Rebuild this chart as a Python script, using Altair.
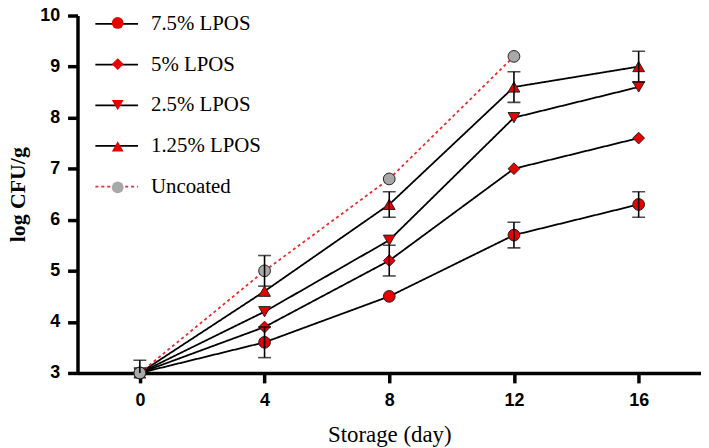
import altair as alt
import pandas as pd

days = [0, 4, 8, 12, 16]
series_names = ["7.5% LPOS", "5% LPOS", "2.5% LPOS", "1.25% LPOS", "Uncoated"]
lpos75 = [3.0, 3.6, 4.5, 5.7, 6.3]
lpos75_err = [0, 0.3, 0, 0.25, 0.25]
lpos5 = [3.0, 3.9, 5.2, 7.0, 7.6]
lpos5_err = [0, 0, 0.3, 0, 0]
lpos25 = [3.0, 4.2, 5.6, 8.0, 8.6]
lpos25_err = [0, 0, 0, 0, 0]
lpos125 = [3.0, 4.6, 6.3, 8.6, 9.0]
lpos125_err = [0, 0, 0.25, 0.3, 0.3]
uncoated_days = [0, 4, 8, 12]
uncoated = [3.0, 5.0, 6.8, 9.2]
uncoated_err = [0.25, 0.3, 0, 0]

pt_names = ["pt " + n for n in series_names]

rows = []
for name, xs, vals, errs in [
    (series_names[0], days, lpos75, lpos75_err),
    (series_names[1], days, lpos5, lpos5_err),
    (series_names[2], days, lpos25, lpos25_err),
    (series_names[3], days, lpos125, lpos125_err),
    (series_names[4], uncoated_days, uncoated, uncoated_err),
]:
    for d, v, e in zip(xs, vals, errs):
        rows.append({"day": d, "value": v, "err": e, "lo": v - e, "hi": v + e,
                     "series": name, "series_pt": "pt " + name,
                     "order": series_names.index(name)})
df = pd.DataFrame(rows)

RED = "#e60000"
GRAY = "#a8a8a8"
LINE_RED = "#ee2b2b"

xscale = alt.Scale(domain=[-2, 18], nice=False, zero=False)
yscale = alt.Scale(domain=[3, 10], nice=False, zero=False)

xenc = alt.X("day:Q", scale=xscale,
             axis=alt.Axis(values=days, title="Storage (day)", grid=False, format="d"))
yenc = alt.Y("value:Q", scale=yscale,
             axis=alt.Axis(values=[3, 4, 5, 6, 7, 8, 9, 10], title="log CFU/g",
                           grid=False, format="d"))

base = alt.Chart(df)

line_legend = dict(title=None, orient="none", legendX=17, legendY=-14,
                   symbolType="stroke", symbolSize=1849,
                   symbolStrokeWidth=1.8, rowPadding=7.95,
                   padding=0, labelFont="Liberation Serif",
                   labelFontSize=21, labelColor="black",
                   labelOffset=12, labelLimit=300)

lines = base.mark_line(strokeWidth=1.8, clip=True).encode(
    x=xenc, y=yenc,
    stroke=alt.Stroke("series:N",
                      scale=alt.Scale(domain=series_names,
                                      range=["black", "black", "black", "black", LINE_RED]),
                      legend=alt.Legend(**line_legend)),
    strokeDash=alt.StrokeDash("series:N",
                              scale=alt.Scale(domain=series_names,
                                              range=[[1, 0], [1, 0], [1, 0], [1, 0], [3, 3]]),
                              legend=alt.Legend(**line_legend)),
    detail="series:N",
    order="day:Q",
)

pt_legend = dict(title=None, orient="none", legendX=30, legendY=-3,
                 symbolSize=140, symbolStrokeColor="#222222",
                 symbolStrokeWidth=1, rowPadding=19.4, padding=0,
                 labelFont="Liberation Serif", labelFontSize=21,
                 labelColor="transparent", labelOpacity=0)

pts = base.mark_point(filled=True, size=140, stroke="#222222", strokeWidth=1, opacity=1).encode(
    x=xenc, y=yenc,
    shape=alt.Shape("series_pt:N",
                    scale=alt.Scale(domain=pt_names,
                                    range=["circle", "diamond", "triangle-down", "triangle-up", "circle"]),
                    legend=alt.Legend(**pt_legend)),
    fill=alt.Fill("series_pt:N",
                  scale=alt.Scale(domain=pt_names, range=[RED, RED, RED, RED, GRAY]),
                  legend=alt.Legend(**pt_legend)),
    order=alt.Order("order:Q"),
)

errdf = base.transform_filter("datum.err > 0")
err_rule = errdf.mark_rule(color="black", strokeWidth=1.6, clip=True).encode(
    x="day:Q", y=alt.Y("lo:Q"), y2="hi:Q")
err_lo = errdf.mark_tick(color="black", thickness=1.6, size=13, clip=True,
                         orient="horizontal").encode(x="day:Q", y="lo:Q")
err_hi = errdf.mark_tick(color="black", thickness=1.6, size=13, clip=True,
                         orient="horizontal").encode(x="day:Q", y="hi:Q")

chart = alt.layer(lines, pts, err_rule, err_lo, err_hi).properties(
    width=628, height=360,
    autosize=alt.AutoSizeParams(type="none"),
    padding={"left": 70, "top": 6, "right": 0, "bottom": 75},
).configure_view(stroke=None).configure_axis(
    domainWidth=3.5, domainColor="black", tickWidth=3.5, tickColor="black", tickSize=10,
    labelFont="Liberation Sans", labelFontWeight="bold", labelFontSize=18,
    labelColor="black", labelPadding=8,
).configure_axisY(
    titleFont="Liberation Serif", titleFontWeight="bold", titleFontSize=22,
    titleColor="black", titlePadding=10,
).configure_axisX(
    titleFont="Liberation Serif", titleFontWeight="normal", titleFontSize=23,
    titleColor="black", titlePadding=14, labelPadding=9,
)

chart.save("out.html", embed_options={"renderer": "svg", "actions": False})
